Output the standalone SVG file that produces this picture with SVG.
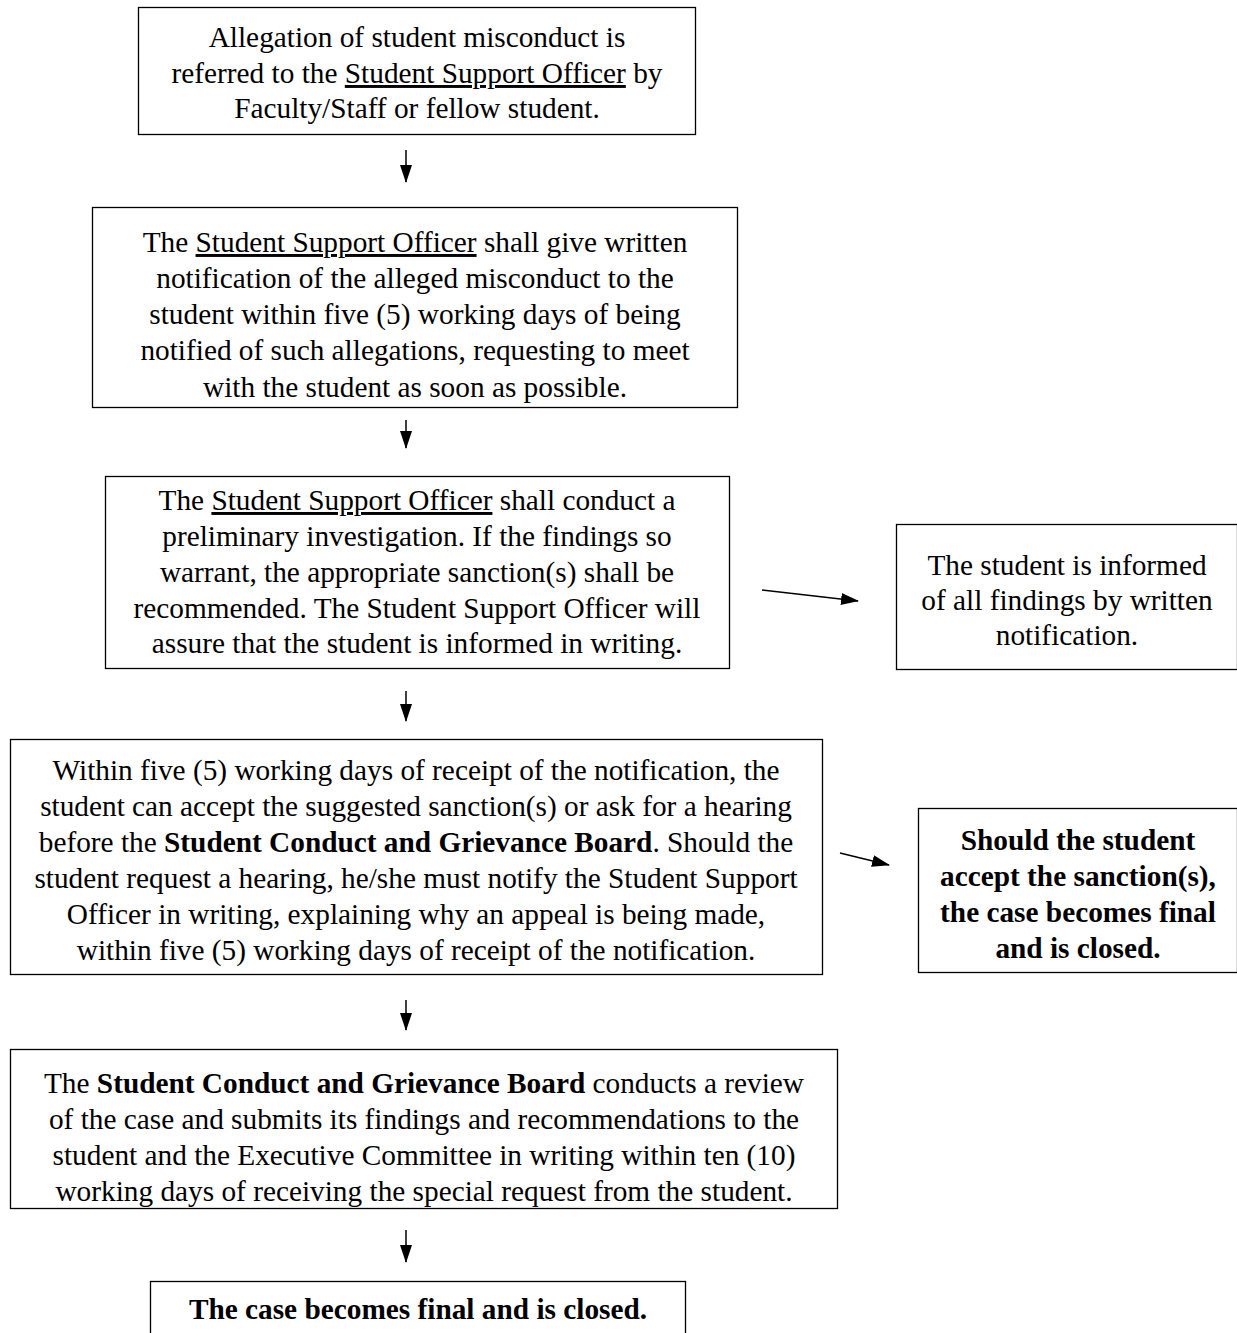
<svg xmlns="http://www.w3.org/2000/svg" width="1237" height="1333" viewBox="0 0 1237 1333">
<defs>
<style>
.box{fill:#fff;stroke:#000;stroke-width:1.3}
.t{font-family:"Liberation Serif","Times New Roman",serif;font-size:29.3px;fill:#000;text-anchor:middle}
.b{font-weight:bold}
.u{text-decoration:underline}
.c{stroke:#000;stroke-width:1.5;fill:none}
</style>
<marker id="ah2" markerWidth="18" markerHeight="12" refX="17" refY="6" orient="auto" markerUnits="userSpaceOnUse" viewBox="0 0 18 12">
<path d="M0,0 L18,6 L0,12 z" fill="#000"/>
</marker>
</defs>
<rect width="1237" height="1333" fill="#fff"/>
<g id="connectors">
<line class="c" x1="406" y1="150" x2="406" y2="182" marker-end="url(#ah2)"/>
<line class="c" x1="406" y1="420" x2="406" y2="448" marker-end="url(#ah2)"/>
<line class="c" x1="406" y1="691" x2="406" y2="721" marker-end="url(#ah2)"/>
<line class="c" x1="406" y1="1000" x2="406" y2="1030" marker-end="url(#ah2)"/>
<line class="c" x1="406" y1="1230" x2="406" y2="1262" marker-end="url(#ah2)"/>
<line class="c" x1="762" y1="590" x2="858" y2="601" marker-end="url(#ah2)"/>
<line class="c" x1="840" y1="853" x2="889" y2="865" marker-end="url(#ah2)"/>
</g>
<g id="n1">
<rect class="box" x="138.5" y="7.5" width="557" height="127"/>
<text class="t" x="417" y="47">Allegation of student misconduct is</text>
<text class="t" x="417" y="83">referred to the <tspan class="u">Student Support Officer</tspan> by</text>
<text class="t" x="417" y="118">Faculty/Staff or fellow student.</text>
</g>
<g id="n2">
<rect class="box" x="92.5" y="207.5" width="645" height="200"/>
<text class="t" x="415" y="252">The <tspan class="u">Student Support Officer</tspan> shall give written</text>
<text class="t" x="415" y="288">notification of the alleged misconduct to the</text>
<text class="t" x="415" y="324">student within five (5) working days of being</text>
<text class="t" x="415" y="360">notified of such allegations, requesting to meet</text>
<text class="t" x="415" y="397">with the student as soon as possible.</text>
</g>
<g id="n3">
<rect class="box" x="105.5" y="476.5" width="624" height="192"/>
<text class="t" x="417" y="510">The <tspan class="u">Student Support Officer</tspan> shall conduct a</text>
<text class="t" x="417" y="546">preliminary investigation. If the findings so</text>
<text class="t" x="417" y="582">warrant, the appropriate sanction(s) shall be</text>
<text class="t" x="417" y="618">recommended. The Student Support Officer will</text>
<text class="t" x="417" y="653">assure that the student is informed in writing.</text>
</g>
<g id="n4">
<rect class="box" x="896.5" y="524.5" width="341" height="145"/>
<text class="t" x="1067" y="575">The student is informed</text>
<text class="t" x="1067" y="610">of all findings by written</text>
<text class="t" x="1067" y="645">notification.</text>
</g>
<g id="n5">
<rect class="box" x="10.5" y="739.5" width="812" height="235"/>
<text class="t" x="416" y="780">Within five (5) working days of receipt of the notification, the</text>
<text class="t" x="416" y="816">student can accept the suggested sanction(s) or ask for a hearing</text>
<text class="t" x="416" y="852">before the <tspan class="b">Student Conduct and Grievance Board</tspan>. Should the</text>
<text class="t" x="416" y="888">student request a hearing, he/she must notify the Student Support</text>
<text class="t" x="416" y="924">Officer in writing, explaining why an appeal is being made,</text>
<text class="t" x="416" y="960">within five (5) working days of receipt of the notification.</text>
</g>
<g id="n6">
<rect class="box" x="918.5" y="808.5" width="319" height="164"/>
<text class="t b" x="1078" y="850">Should the student</text>
<text class="t b" x="1078" y="886">accept the sanction(s),</text>
<text class="t b" x="1078" y="922">the case becomes final</text>
<text class="t b" x="1078" y="958">and is closed.</text>
</g>
<g id="n7">
<rect class="box" x="10.5" y="1049.5" width="827" height="159"/>
<text class="t" x="424" y="1093">The <tspan class="b">Student Conduct and Grievance Board</tspan> conducts a review</text>
<text class="t" x="424" y="1129">of the case and submits its findings and recommendations to the</text>
<text class="t" x="424" y="1165">student and the Executive Committee in writing within ten (10)</text>
<text class="t" x="424" y="1201">working days of receiving the special request from the student.</text>
</g>
<g id="n8">
<rect class="box" x="150.5" y="1281.5" width="535" height="60"/>
<text class="t b" x="418" y="1319">The case becomes final and is closed.</text>
</g>
</svg>
